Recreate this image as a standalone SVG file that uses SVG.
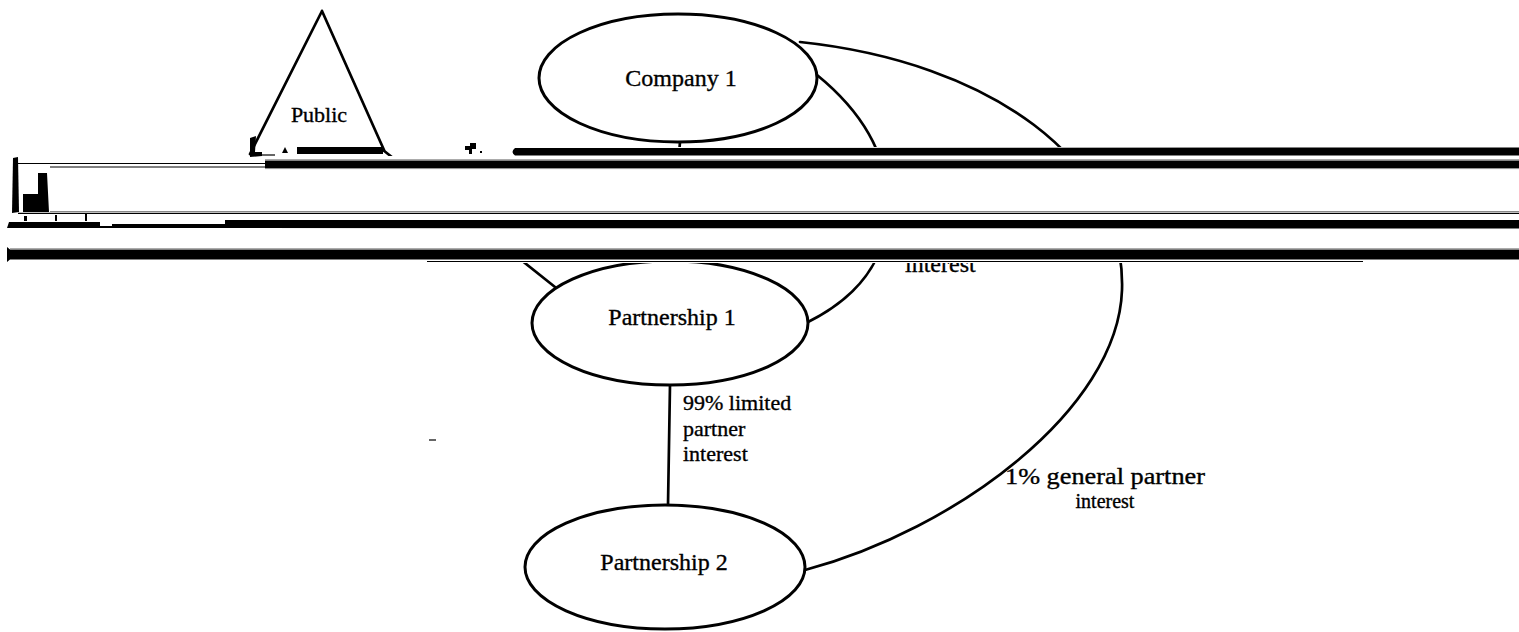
<svg xmlns="http://www.w3.org/2000/svg" width="1519" height="632" viewBox="0 0 1519 632">
<style>
.ln{fill:none;stroke:#000;stroke-width:2.7;stroke-linecap:round;stroke-linejoin:round}
.nd{fill:#fff;stroke:#000;stroke-width:3}
.t{font-family:"Liberation Serif","Times New Roman",serif;fill:#000;stroke:#000;stroke-width:0.35}
.bar{fill:#000}
.thin{fill:none;stroke:#000;stroke-width:1.2}
.grey{fill:none;stroke:#888;stroke-width:1}
</style>
<rect width="1519" height="632" fill="#fff"/>
<g id="connectors">
<path class="ln" d="M680,142 L670,262"/>
<path class="ln" d="M817,75 C860,110 886,150 888,200 C890,248 868,292 808,322"/>
<path class="ln" d="M800,42 C990,62 1126,160 1122,290 C1118,410 955,530 805,570"/>
<path class="ln" d="M383,150 L555,287"/>
<path class="ln" d="M670,385 L668,505"/>
<text class="t" x="905" y="272" font-size="24">interest</text>
<text class="t" x="683" y="410" font-size="22">99% limited</text>
<text class="t" x="683" y="436" font-size="22">partner</text>
<text class="t" x="683" y="461" font-size="22">interest</text>
<text class="t" x="1005" y="484" font-size="23" textLength="200" lengthAdjust="spacingAndGlyphs">1% general partner</text>
<text class="t" x="1105" y="508" font-size="20" text-anchor="middle">interest</text>
</g>
<g id="public">
<path class="ln" d="M322,11 L250,154 M322,11 L384,150"/>
<text class="t" x="319" y="122" font-size="22" text-anchor="middle">Public</text>
</g>
<g id="company1">
<ellipse class="nd" cx="678" cy="78" rx="139" ry="64"/>
<text class="t" x="681" y="86" font-size="24" text-anchor="middle">Company 1</text>
</g>
<g id="partnership1">
<ellipse class="nd" cx="670" cy="323" rx="138" ry="62"/>
<text class="t" x="672" y="325" font-size="24" text-anchor="middle">Partnership 1</text>
</g>
<g id="partnership2">
<ellipse class="nd" cx="665" cy="567" rx="140" ry="62"/>
<text class="t" x="664" y="570" font-size="24" text-anchor="middle">Partnership 2</text>
</g>
<g id="scan-artifacts">
<rect x="0" y="156" width="1519" height="107" fill="#fff"/>
<rect x="500" y="147" width="1019" height="10" fill="#fff"/>
<rect class="bar" x="297" y="147" width="86" height="7"/>
<path class="bar" d="M282,153 L285,147 L288,153 Z"/>
<path class="bar" d="M250,138 L256,136 L255,152 L262,152 L262,156 L250,157 Z"/>
<path class="thin" d="M257,155 L275,155"/>
<path class="bar" d="M465,146 h5 v-3 h6 v6 h-4 v5 h-3 v-4 h-4 Z"/>
<rect class="bar" x="480" y="151" width="2" height="2"/>
<path class="bar" d="M515,148 Q510,152 515,155.5 L1519,155.5 L1519,147.5 Z"/>
<rect class="bar" x="265" y="160.5" width="1254" height="7.5"/>
<path class="grey" d="M265,159.8 H1519 M265,168.6 H1519"/>
<path class="thin" d="M18,163.5 H266 M50,167 H266"/>
<path class="bar" d="M13,158 L18,157 L19,212 L12,213 Z"/>
<path class="bar" d="M38,173 L47,173 L49,212 L23,212 L23,194 L38,194 Z"/>
<path class="grey" d="M50,211.5 H1519"/>
<path class="thin" d="M18,213.3 H1519"/>
<path class="bar" d="M7,228 L9,222 L100,222 L100,224 L225,224 L225,220 L1519,220 L1519,228.5 Z"/>
<rect x="100" y="223" width="12" height="3" fill="#fff"/>
<rect class="bar" x="24" y="216" width="3" height="5"/>
<rect class="bar" x="55" y="215" width="2" height="6"/>
<rect class="bar" x="85" y="214" width="2" height="7"/>
<path class="bar" d="M7,247 L10,249.5 L1519,249.5 L1519,259.5 L10,259.5 L7,262 Z"/>
<path class="grey" d="M10,248.8 H1519"/>
<path class="thin" d="M427,261.5 H1363"/>
</g>
<path class="thin" d="M429,440 H436"/>
</svg>
